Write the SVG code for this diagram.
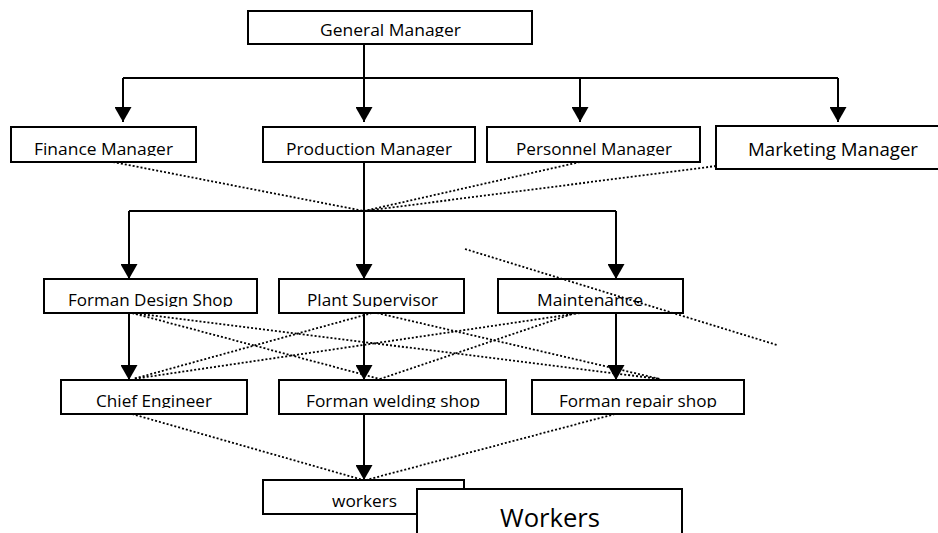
<svg xmlns="http://www.w3.org/2000/svg" width="938" height="533" viewBox="0 0 938 533">
  <style>
    .box { fill: #ffffff; stroke: #000000; stroke-width: 2; }
    .lbl { font-family: "Open Sans", "Liberation Sans", sans-serif; font-size: 17px; fill: #000000; text-anchor: middle; }
    .big { font-size: 18.5px; }
    .huge { font-size: 25px; }
    .solid { fill: none; stroke: #000000; stroke-width: 2; }
    .arrow { fill: none; stroke: #000000; stroke-width: 2; marker-end: url(#head); }
    .dot { fill: none; stroke: #000000; stroke-width: 1.8; stroke-dasharray: 2 2; }
  </style>
  <defs>
    <marker id="head" markerUnits="userSpaceOnUse" markerWidth="15" markerHeight="17" refX="15" refY="8.5" orient="auto">
      <path d="M0,0 L15,8.5 L0,17 Z" fill="#000000"/>
    </marker>
    <!-- labels are cut just below their baseline, one clip band per row -->
    <clipPath id="row1"><rect x="0" y="0" width="938" height="37"/></clipPath>
    <clipPath id="row2"><rect x="0" y="0" width="938" height="156"/></clipPath>
    <clipPath id="row3"><rect x="0" y="200" width="938" height="107"/></clipPath>
    <clipPath id="row4"><rect x="0" y="360" width="938" height="48"/></clipPath>
  </defs>

  <rect width="938" height="533" fill="#ffffff"/>

  <g id="general-manager">
    <rect class="box" x="248" y="11" width="284" height="33"/>
    <text class="lbl" x="390.5" y="36" textLength="141" lengthAdjust="spacingAndGlyphs" clip-path="url(#row1)">General Manager</text>
  </g>

  <g id="finance-manager">
    <rect class="box" x="11" y="127" width="185" height="35"/>
    <text class="lbl" x="103.5" y="155" textLength="139" lengthAdjust="spacingAndGlyphs" clip-path="url(#row2)">Finance Manager</text>
  </g>
  <g id="production-manager">
    <rect class="box" x="263" y="127" width="212" height="35"/>
    <text class="lbl" x="369" y="155" textLength="166" lengthAdjust="spacingAndGlyphs" clip-path="url(#row2)">Production Manager</text>
  </g>
  <g id="personnel-manager">
    <rect class="box" x="487" y="127" width="213" height="35"/>
    <text class="lbl" x="594" y="155" textLength="156" lengthAdjust="spacingAndGlyphs" clip-path="url(#row2)">Personnel Manager</text>
  </g>
  <g id="marketing-manager">
    <rect class="box" x="716" y="126" width="230" height="43"/>
    <text class="lbl big" x="833" y="156" textLength="170" lengthAdjust="spacingAndGlyphs">Marketing Manager</text>
  </g>

  <g id="forman-design-shop">
    <rect class="box" x="44" y="279" width="213" height="34"/>
    <text class="lbl" x="150.5" y="306" textLength="165" lengthAdjust="spacingAndGlyphs" clip-path="url(#row3)">Forman Design Shop</text>
  </g>
  <g id="plant-supervisor">
    <rect class="box" x="279" y="279" width="185" height="34"/>
    <text class="lbl" x="372.5" y="306" textLength="131" lengthAdjust="spacingAndGlyphs" clip-path="url(#row3)">Plant Supervisor</text>
  </g>
  <g id="maintenance">
    <rect class="box" x="498" y="279" width="185" height="34"/>
    <text class="lbl" x="590" y="306" textLength="106" lengthAdjust="spacingAndGlyphs" clip-path="url(#row3)">Maintenance</text>
  </g>

  <g id="chief-engineer">
    <rect class="box" x="61" y="380" width="186" height="34"/>
    <text class="lbl" x="154" y="407" textLength="116" lengthAdjust="spacingAndGlyphs" clip-path="url(#row4)">Chief Engineer</text>
  </g>
  <g id="forman-welding-shop">
    <rect class="box" x="279" y="380" width="227" height="34"/>
    <text class="lbl" x="393" y="407" textLength="174" lengthAdjust="spacingAndGlyphs" clip-path="url(#row4)">Forman welding shop</text>
  </g>
  <g id="forman-repair-shop">
    <rect class="box" x="532" y="380" width="212" height="34"/>
    <text class="lbl" x="638" y="407" textLength="158" lengthAdjust="spacingAndGlyphs" clip-path="url(#row4)">Forman repair shop</text>
  </g>

  <g id="workers-small">
    <rect class="box" x="263" y="480" width="201" height="34"/>
    <text class="lbl" x="364.5" y="507" textLength="65" lengthAdjust="spacingAndGlyphs">workers</text>
  </g>
  <g id="workers-large">
    <rect class="box" x="417" y="489" width="265" height="60"/>
    <text class="lbl huge" x="550" y="527" textLength="100" lengthAdjust="spacingAndGlyphs">Workers</text>
  </g>

  <g id="connectors">
    <!-- general manager to the four managers -->
    <path class="solid" d="M364,44 V78"/>
    <path class="solid" d="M123,78 H838"/>
    <path class="arrow" d="M123,78 V122"/>
    <path class="arrow" d="M364,78 V122"/>
    <path class="arrow" d="M580,78 V122"/>
    <path class="arrow" d="M838,78 V122"/>

    <!-- production manager to the shop heads -->
    <path class="solid" d="M364,162 V211"/>
    <path class="solid" d="M129,211 H616"/>
    <path class="arrow" d="M129,211 V279"/>
    <path class="arrow" d="M364,211 V279"/>
    <path class="arrow" d="M616,211 V279"/>

    <!-- shop heads to the third tier -->
    <path class="arrow" d="M129,313 V380"/>
    <path class="arrow" d="M364,313 V380"/>
    <path class="arrow" d="M616,313 V380"/>

    <!-- welding shop to workers -->
    <path class="arrow" d="M364,414 V480"/>

    <!-- staff (dotted) links -->
    <path class="dot" d="M113,162 L364,211"/>
    <path class="dot" d="M580,162 L364,211"/>
    <path class="dot" d="M716,166 L364,211"/>
    <path class="dot" d="M465,249 L777,345"/>
    <path class="dot" d="M132,313 L380,379"/>
    <path class="dot" d="M132,313 L660,379"/>
    <path class="dot" d="M372,313 L133,379"/>
    <path class="dot" d="M377,313 L660,379"/>
    <path class="dot" d="M580,313 L133,379"/>
    <path class="dot" d="M575,313 L380,379"/>
    <path class="dot" d="M132,414 L363,480"/>
    <path class="dot" d="M615,414 L366,480"/>
  </g>
</svg>
